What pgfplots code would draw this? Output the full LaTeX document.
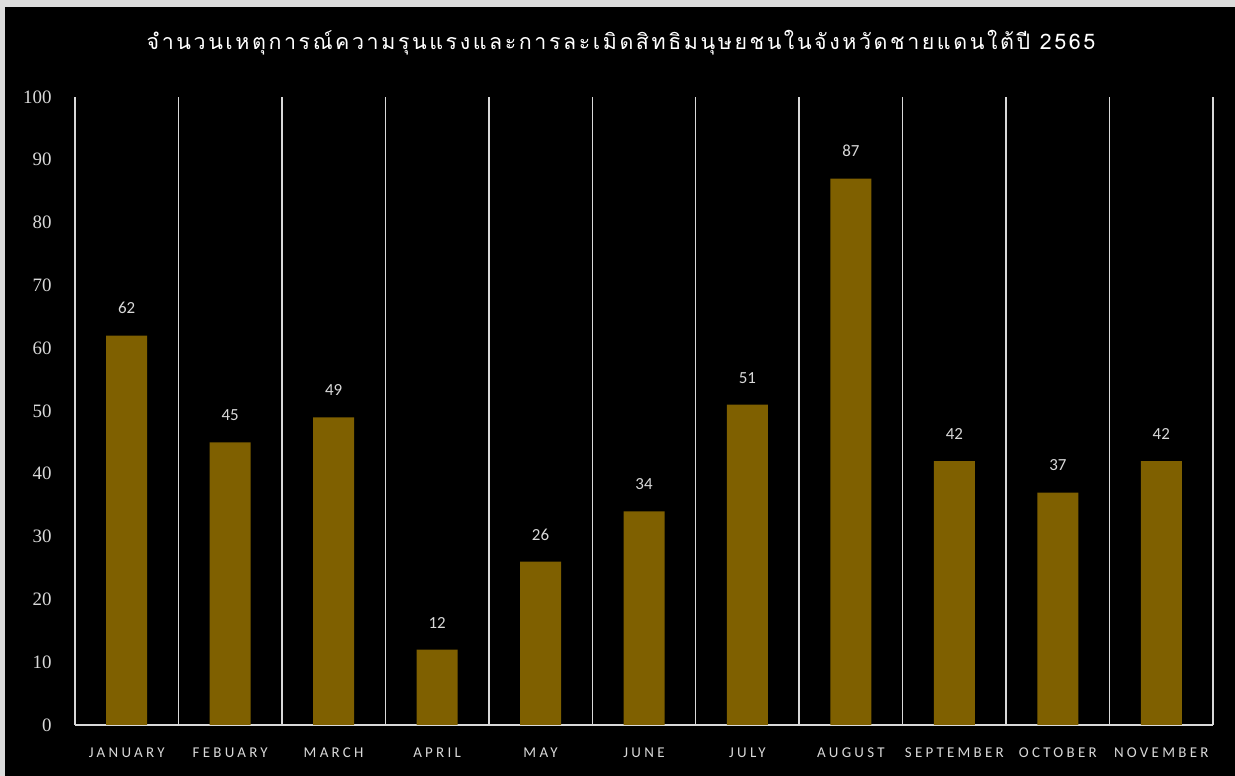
\documentclass[border=0pt]{standalone}
\usepackage{fontspec}
\usepackage{pgfplots}
\pgfplotsset{compat=1.18}
\setmainfont{Carlito}
\newfontfamily\thaifont[Script=Thai,LetterSpace=12]{Loma}
\newfontfamily\tickfont{Liberation Serif}
\newfontfamily\catfont[LetterSpace=22]{Carlito}
\definecolor{bargold}{HTML}{7F6000}
\definecolor{linegray}{HTML}{D9D9D9}
\definecolor{framegray}{HTML}{DCDCDC}

\begin{document}
\begin{tikzpicture}[x=1bp,y=1bp]
\useasboundingbox (0,0) rectangle (1235,776);
\fill[framegray] (0,0) rectangle (1235,776);
\fill[black] (5,0) rectangle (1235,769);
\node[text=white, font=\thaifont\fontsize{21.5}{25}\selectfont] at (621,733)
  {จำนวนเหตุการณ์ความรุนแรงและการละเมิดสิทธิมนุษยชนในจังหวัดชายแดนใต้ปี 2565};
\begin{axis}[
  at={(75bp,51bp)}, anchor=south west,
  scale only axis, width=1138bp, height=628bp,
  ybar, bar width=41bp,
  xmin=-0.5, xmax=10.5, ymin=0, ymax=100,
  xtick={0,...,10},
  xticklabels={JANUARY,FEBUARY,MARCH,APRIL,MAY,JUNE,JULY,AUGUST,SEPTEMBER,OCTOBER,NOVEMBER},
  ytick={0,10,...,100},
  major tick length=0pt,
  axis x line*=bottom, axis y line*=left,
  y axis line style={draw=none},
  x axis line style={linegray, line width=1.5pt, -},
  extra x ticks={-0.5,0.5,...,10.5},
  extra x tick labels={},
  extra x tick style={grid=major, major grid style={linegray, line width=1.5pt}},
  /pgf/number format/assume math mode=true,
  yticklabel style={font=\tickfont\fontsize{19}{21}\selectfont, text=linegray, xshift=-20bp},
  xticklabel style={font=\catfont\fontsize{15}{17}\selectfont, text=linegray, yshift=-19bp},
  nodes near coords,
  nodes near coords style={font=\fontsize{17}{19}\selectfont, text=linegray, yshift=18bp},
]
\addplot[fill=bargold, draw=none] coordinates {
  (0,62) (1,45) (2,49) (3,12) (4,26) (5,34) (6,51) (7,87) (8,42) (9,37) (10,42)
};
\end{axis}
\end{tikzpicture}
\end{document}
